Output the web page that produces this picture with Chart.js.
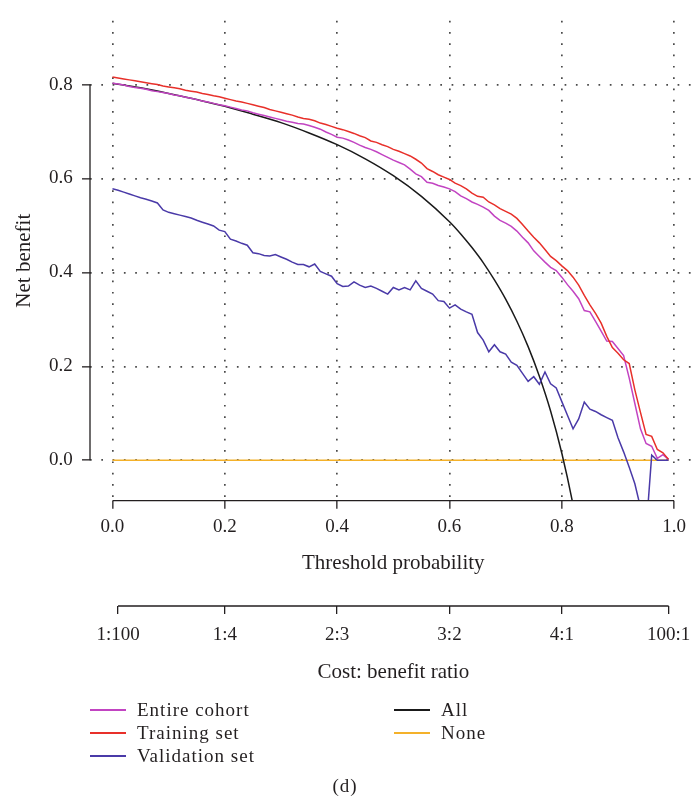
<!DOCTYPE html>
<html>
<head>
<meta charset="utf-8">
<title>Decision curve</title>
<script src="https://cdn.jsdelivr.net/npm/chart.js@4/dist/chart.umd.min.js"></script>
<style>
	html, body { margin: 0; padding: 0; background: #fff; }
	#wrap { position: relative; width: 692px; height: 805px; overflow: hidden; }
	#dca { position: absolute; left: 0; top: 0; }
	.lg { position: absolute; height: 22px; font: 19px "Liberation Serif", serif; letter-spacing: 1px; color: #231f20; white-space: nowrap; line-height: 22px; }
	.lg i { position: absolute; left: 0; top: 10px; width: 36px; height: 1.6px; }
	.lg span { position: absolute; left: 47px; top: 0; }
	#cap { position: absolute; left: 0; width: 690px; top: 775px; text-align: center; font: 19px "Liberation Serif", serif; letter-spacing: 1px; color: #231f20; }
</style>
</head>
<body>
<div id="wrap">
	<canvas id="dca" width="700" height="805"></canvas>
	<div id="legend"></div>
	<div id="cap">(d)</div>
</div>
<script>
(function() {
	'use strict';

	// threshold probabilities shared by the three model curves
	var thresholds = [
		0.00, 0.01, 0.02, 0.03, 0.04, 0.05, 0.06, 0.07, 0.08, 0.09,
		0.10, 0.11, 0.12, 0.13, 0.14, 0.15, 0.16, 0.17, 0.18, 0.19,
		0.20, 0.21, 0.22, 0.23, 0.24, 0.25, 0.26, 0.27, 0.28, 0.29,
		0.30, 0.31, 0.32, 0.33, 0.34, 0.35, 0.36, 0.37, 0.38, 0.39,
		0.40, 0.41, 0.42, 0.43, 0.44, 0.45, 0.46, 0.47, 0.48, 0.49,
		0.50, 0.51, 0.52, 0.53, 0.54, 0.55, 0.56, 0.57, 0.58, 0.59,
		0.60, 0.61, 0.62, 0.63, 0.64, 0.65, 0.66, 0.67, 0.68, 0.69,
		0.70, 0.71, 0.72, 0.73, 0.74, 0.75, 0.76, 0.77, 0.78, 0.79,
		0.80, 0.81, 0.82, 0.83, 0.84, 0.85, 0.86, 0.87, 0.88, 0.89,
		0.90, 0.91, 0.92, 0.93, 0.94, 0.95, 0.96, 0.97, 0.98, 0.99
	];

	var entireCohort = [
		0.803, 0.801, 0.799, 0.796, 0.794, 0.792, 0.790, 0.787, 0.785, 0.783,
		0.781, 0.778, 0.776, 0.773, 0.771, 0.768, 0.765, 0.763, 0.760, 0.757,
		0.755, 0.752, 0.749, 0.746, 0.744, 0.740, 0.737, 0.734, 0.731, 0.728,
		0.725, 0.722, 0.720, 0.717, 0.716, 0.713, 0.709, 0.705, 0.699, 0.694,
		0.688, 0.686, 0.682, 0.677, 0.671, 0.666, 0.662, 0.657, 0.651, 0.645,
		0.639, 0.634, 0.629, 0.620, 0.610, 0.604, 0.592, 0.590, 0.585, 0.582,
		0.578, 0.572, 0.563, 0.557, 0.550, 0.545, 0.539, 0.532, 0.520, 0.511,
		0.505, 0.498, 0.488, 0.475, 0.463, 0.446, 0.434, 0.422, 0.411, 0.404,
		0.390, 0.374, 0.360, 0.344, 0.319, 0.316, 0.296, 0.275, 0.254, 0.253,
		0.238, 0.223, 0.175, 0.121, 0.067, 0.036, 0.030, 0.004, 0.012, 0.002
	];

	var trainingSet = [
		0.816, 0.814, 0.812, 0.810, 0.808, 0.806, 0.804, 0.802, 0.800, 0.797,
		0.795, 0.793, 0.791, 0.788, 0.786, 0.784, 0.781, 0.779, 0.776, 0.774,
		0.771, 0.768, 0.765, 0.763, 0.760, 0.757, 0.754, 0.751, 0.747, 0.744,
		0.741, 0.738, 0.735, 0.731, 0.728, 0.726, 0.723, 0.718, 0.715, 0.711,
		0.707, 0.704, 0.700, 0.696, 0.691, 0.687, 0.680, 0.677, 0.672, 0.668,
		0.662, 0.658, 0.653, 0.648, 0.641, 0.633, 0.621, 0.615, 0.608, 0.603,
		0.598, 0.590, 0.585, 0.578, 0.569, 0.562, 0.560, 0.550, 0.544, 0.536,
		0.530, 0.524, 0.515, 0.502, 0.488, 0.475, 0.463, 0.449, 0.434, 0.425,
		0.414, 0.404, 0.390, 0.373, 0.351, 0.331, 0.313, 0.292, 0.264, 0.240,
		0.228, 0.214, 0.206, 0.150, 0.102, 0.055, 0.051, 0.023, 0.016, 0.002
	];

	var validationSet = [
		0.578, 0.575, 0.571, 0.567, 0.563, 0.559, 0.556, 0.552, 0.548, 0.533,
		0.528, 0.525, 0.522, 0.519, 0.516, 0.511, 0.507, 0.503, 0.499, 0.490,
		0.487, 0.471, 0.467, 0.462, 0.458, 0.442, 0.440, 0.436, 0.435, 0.438,
		0.433, 0.428, 0.422, 0.417, 0.417, 0.412, 0.418, 0.402, 0.397, 0.392,
		0.376, 0.370, 0.371, 0.380, 0.373, 0.368, 0.371, 0.366, 0.360, 0.354,
		0.368, 0.363, 0.368, 0.363, 0.382, 0.366, 0.360, 0.354, 0.340, 0.338,
		0.324, 0.331, 0.322, 0.316, 0.311, 0.272, 0.256, 0.231, 0.246, 0.231,
		0.226, 0.209, 0.202, 0.185, 0.168, 0.178, 0.162, 0.188, 0.163, 0.154,
		0.125, 0.096, 0.067, 0.088, 0.124, 0.109, 0.104, 0.097, 0.091, 0.085,
		0.048, 0.018, -0.015, -0.050, -0.100, -0.151, 0.011, 0.000, 0.000, 0.000
	];

	// treat-all reference curve
	var allThresholds = [0.00, 0.05, 0.10, 0.15, 0.20, 0.25, 0.30, 0.35, 0.40, 0.45, 0.50, 0.55, 0.60, 0.62, 0.64, 0.66, 0.68, 0.70, 0.72, 0.74, 0.76, 0.78, 0.80, 0.82, 0.84];
	var allValues = [0.803, 0.793, 0.781, 0.768, 0.754, 0.737, 0.719, 0.697, 0.672, 0.642, 0.606, 0.562, 0.508, 0.482, 0.453, 0.421, 0.384, 0.343, 0.296, 0.242, 0.179, 0.105, 0.015, -0.095, -0.231];

	// treat-none reference line
	var noneThresholds = [0.00, 0.99];
	var noneValues = [0, 0];

	var xTickValues = [0, 0.2, 0.4, 0.6, 0.8, 1.0];
	var xTickLabels = ['0.0', '0.2', '0.4', '0.6', '0.8', '1.0'];
	var yTickValues = [0, 0.2, 0.4, 0.6, 0.8];
	var yTickLabels = ['0.0', '0.2', '0.4', '0.6', '0.8'];
	var costTickValues = [0.0099, 0.2, 0.4, 0.6, 0.8, 0.9901];
	var costTickLabels = ['1:100', '1:4', '2:3', '3:2', '4:1', '100:1'];

	var ink = '#231f20';
	var tickFont = { family: '"Liberation Serif", serif', size: 19 };
	var titleFont = { family: '"Liberation Serif", serif', size: 21 };

	function pts(xs, ys) {
		return xs.map(function(x, i) { return { x: x, y: ys[i] }; });
	}
	function fixTicks(values) {
		return function(scale) {
			scale.ticks = values.map(function(v) { return { value: v }; });
		};
	}
	function labelFrom(labels) {
		return function(value, index) { return labels[index]; };
	}

	var series = [
		{ label: 'Validation set', xs: thresholds, ys: validationSet, color: '#4a3aa8', col: 0, row: 2 },
		{ label: 'Training set', xs: thresholds, ys: trainingSet, color: '#e8302a', col: 0, row: 1 },
		{ label: 'Entire cohort', xs: thresholds, ys: entireCohort, color: '#c244c2', col: 0, row: 0 },
		{ label: 'All', xs: allThresholds, ys: allValues, color: '#1a1a1a', col: 1, row: 0, smooth: true },
		{ label: 'None', xs: noneThresholds, ys: noneValues, color: '#f4b12a', col: 1, row: 1 }
	];

	var datasets = series.map(function(s) {
		return {
			label: s.label,
			data: pts(s.xs, s.ys),
			borderColor: s.color,
			backgroundColor: s.color,
			borderWidth: 1.5,
			pointRadius: 0,
			fill: false,
			tension: 0,
			cubicInterpolationMode: s.smooth ? 'monotone' : 'default'
		};
	});

	// R-style axis lines that stop at the outer ticks
	var axisLines = {
		id: 'axisLines',
		afterDraw: function(chart) {
			var ctx = chart.ctx;
			var x = chart.scales.x, y = chart.scales.y, x2 = chart.scales.x2;
			ctx.save();
			ctx.strokeStyle = ink;
			ctx.lineWidth = 1.3;
			ctx.beginPath();
			ctx.moveTo(x.getPixelForValue(xTickValues[0]), x.top);
			ctx.lineTo(x.getPixelForValue(xTickValues[xTickValues.length - 1]), x.top);
			ctx.moveTo(y.right, y.getPixelForValue(yTickValues[0]));
			ctx.lineTo(y.right, y.getPixelForValue(yTickValues[yTickValues.length - 1]));
			ctx.moveTo(x2.getPixelForValue(costTickValues[0]), x2.top);
			ctx.lineTo(x2.getPixelForValue(costTickValues[costTickValues.length - 1]), x2.top);
			ctx.stroke();
			ctx.restore();
		}
	};

	var dotted = { display: false, dash: [1.7, 9.6] };
	var gridOpts = { color: '#4a4a4a', lineWidth: 1.7, tickColor: ink, tickWidth: 1.3, tickLength: 8, drawTicks: true };

	new Chart(document.getElementById('dca').getContext('2d'), {
		type: 'line',
		data: { datasets: datasets },
		plugins: [axisLines],
		options: {
			responsive: false,
			animation: false,
			devicePixelRatio: 1,
			layout: { padding: { top: 7, left: 0, right: 0, bottom: 119 } },
			plugins: { legend: { display: false }, tooltip: { enabled: false } },
			scales: {
				x: {
					type: 'linear', position: 'bottom', min: -0.04, max: 1.04,
					afterBuildTicks: fixTicks(xTickValues),
					afterFit: function(s) { s.height = 105.3; },
					grid: gridOpts,
					border: dotted,
					ticks: { callback: labelFrom(xTickLabels), autoSkip: false, maxRotation: 0, padding: 6.6, color: ink, font: tickFont },
					title: { display: true, text: 'Threshold probability', color: ink, font: titleFont, padding: { top: 12, bottom: 30.4 } }
				},
				x2: {
					type: 'linear', position: 'bottom', min: -0.04, max: 1.04,
					afterBuildTicks: fixTicks(costTickValues),
					afterFit: function(s) { s.height = 80; },
					grid: { drawOnChartArea: false, color: ink, lineWidth: 1.3, tickColor: ink, tickLength: 8 },
					border: { display: false },
					ticks: { callback: labelFrom(costTickLabels), autoSkip: false, maxRotation: 0, padding: 9.6, color: ink, font: tickFont },
					title: { display: true, text: 'Cost: benefit ratio', color: ink, font: titleFont, padding: { top: 12, bottom: 1.4 } }
				},
				y: {
					type: 'linear', position: 'left', min: -0.086, max: 0.936,
					afterBuildTicks: fixTicks(yTickValues),
					afterFit: function(s) { s.width = 90; },
					grid: gridOpts,
					border: dotted,
					ticks: { callback: labelFrom(yTickLabels), autoSkip: false, padding: 9.3, color: ink, font: tickFont },
					title: { display: true, text: 'Net benefit', color: ink, font: titleFont, padding: { top: 11.9, bottom: 13 } }
				}
			}
		}
	});

	// two-column legend under the chart
	var legend = document.getElementById('legend');
	var colLeft = [90, 394];
	var rowTop = [699, 722, 745];
	series.forEach(function(s) {
		var el = document.createElement('div');
		el.className = 'lg';
		el.style.left = colLeft[s.col] + 'px';
		el.style.top = rowTop[s.row] + 'px';
		el.innerHTML = '<i style="background:' + s.color + '"></i><span>' + s.label + '</span>';
		legend.appendChild(el);
	});
})();
</script>
</body>
</html>
